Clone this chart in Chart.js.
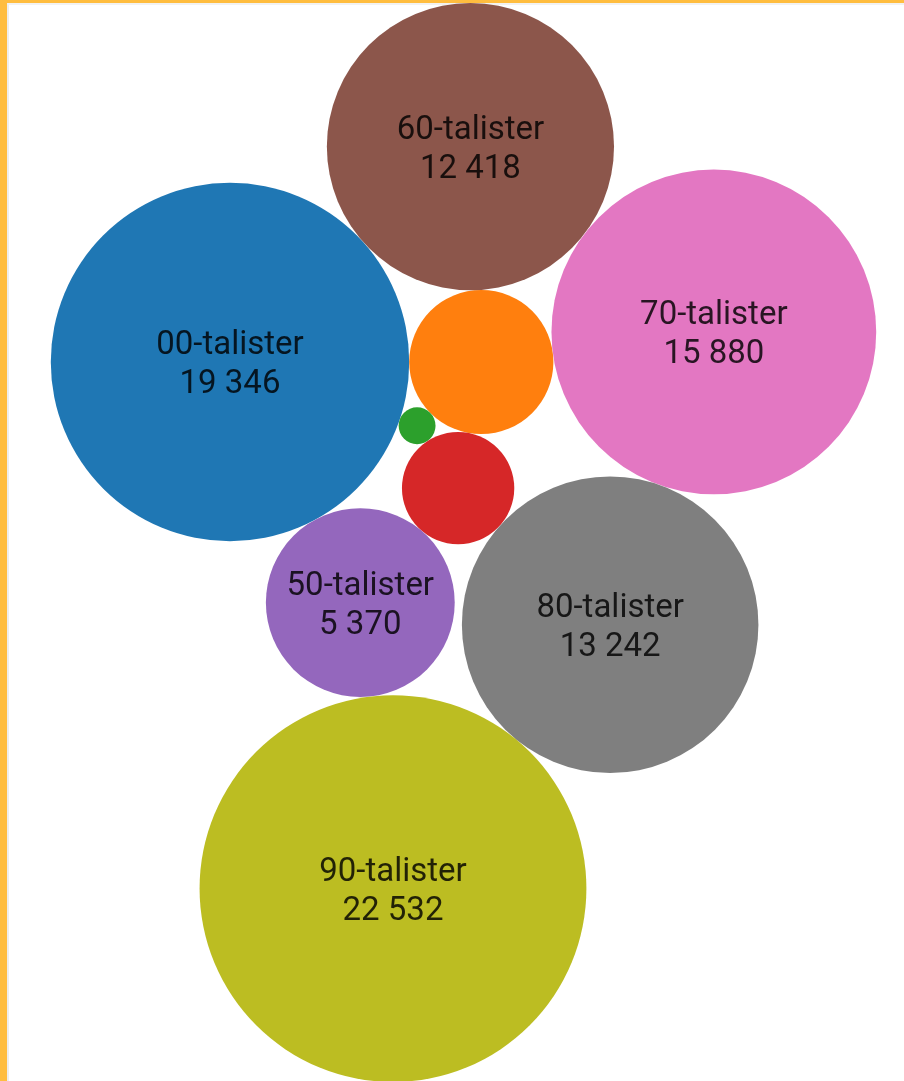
<!DOCTYPE html>
<html lang="sv">
<head>
<meta charset="utf-8">
<title>Talister</title>
<script src="https://cdn.jsdelivr.net/npm/chart.js@4.4.1/dist/chart.umd.min.js"></script>
<style>
  html, body { margin: 0; padding: 0; background: #fff; }
  body { width: 904px; height: 1081px; overflow: hidden; position: relative; }
  .frame { position: absolute; left: 0; top: 0; right: 0; bottom: 0;
           border-left: 7px solid #ffbd3f; border-top: 3px solid #ffbd3f; }
  .inner { position: absolute; left: 7px; top: 3px; right: 0; bottom: 0;
           border-left: 2px solid #eeeeee; border-top: 2px solid #f2f2f2; }
  #wrap { position: absolute; left: 31px; top: 3px; width: 865px; height: 1079px; }
</style>
</head>
<body>
<div class="frame"></div>
<div class="inner"></div>
<div id="wrap"><canvas id="bubbles"></canvas></div>
<script>
const categories = ['00-talister', '10-talister', '30-talister', '40-talister', '50-talister',
                    '60-talister', '70-talister', '80-talister', '90-talister'];
const counts = [19346, 3130, 205, 1900, 5370, 12418, 15880, 13242, 22532];
const colors = ['#1f77b4', '#ff7f0e', '#2ca02c', '#d62728', '#9467bd',
                '#8c564b', '#e377c2', '#7f7f7f', '#bcbd22'];

// packing order: [bubble, touches, touches]
// the new bubble sits on the left side of the line from the first to the second neighbour
const packing = [
  ['00-talister'],
  ['10-talister', '00-talister'],
  ['60-talister', '00-talister', '10-talister'],
  ['30-talister', '10-talister', '00-talister'],
  ['40-talister', '10-talister', '30-talister'],
  ['70-talister', '60-talister', '10-talister'],
  ['50-talister', '40-talister', '00-talister'],
  ['80-talister', '70-talister', '40-talister'],
  ['90-talister', '80-talister', '50-talister']
];

// area ~ value
const radius = counts.map(v => Math.sqrt(v));
const rOf = name => radius[categories.indexOf(name)];

const pos = {};
packing.forEach(([name, a, b]) => {
  const r = rOf(name);
  if (!a) { pos[name] = { x: 0, y: 0 }; return; }
  const pa = pos[a], ra = rOf(a);
  if (!b) { pos[name] = { x: pa.x + ra + r, y: pa.y }; return; }
  const pb = pos[b], rb = rOf(b);
  const dx = pb.x - pa.x, dy = pb.y - pa.y, d = Math.hypot(dx, dy);
  const da = ra + r, db = rb + r;
  const along = (d * d + da * da - db * db) / (2 * d);
  const h = Math.sqrt(Math.max(0, da * da - along * along));
  const ux = dx / d, uy = dy / d;
  pos[name] = { x: pa.x + along * ux - h * uy, y: pa.y + along * uy + h * ux };
});

// bounds of the packed bubbles
let xmin = Infinity, xmax = -Infinity, ymin = Infinity, ymax = -Infinity;
categories.forEach((c, i) => {
  xmin = Math.min(xmin, pos[c].x - radius[i]);
  xmax = Math.max(xmax, pos[c].x + radius[i]);
  ymin = Math.min(ymin, pos[c].y - radius[i]);
  ymax = Math.max(ymax, pos[c].y + radius[i]);
});

// same scale on both axes
const wrap = document.getElementById('wrap');
const unitsPerPx = (ymax - ymin) / wrap.clientHeight;
const xHalf = wrap.clientWidth * unitsPerPx / 2;
const xMid = (xmin + xmax) / 2;

function fmt(v) {
  return String(v).replace(/\B(?=(\d{3})+(?!\d))/g, ' ');
}

const bubbleLabels = {
  id: 'bubbleLabels',
  afterDatasetsDraw(chart) {
    const ctx = chart.ctx;
    const meta = chart.getDatasetMeta(0);
    ctx.save();
    ctx.font = '33px Roboto, "Noto Sans", sans-serif';
    ctx.fillStyle = 'rgba(0, 0, 0, 0.82)';
    ctx.textAlign = 'center';
    ctx.textBaseline = 'alphabetic';
    meta.data.forEach((el, i) => {
      const r = el.options.radius;
      if (!(ctx.measureText(categories[i]).width < 2 * r * 0.95)) return;
      ctx.fillText(categories[i], el.x, el.y - 8);
      ctx.fillText(fmt(counts[i]), el.x, el.y + 31);
    });
    ctx.restore();
  }
};

new Chart(document.getElementById('bubbles'), {
  type: 'bubble',
  data: {
    labels: categories,
    datasets: [{
      label: 'Antal',
      // r in pixels, same scale as the axes
      data: categories.map((c, i) => ({ x: pos[c].x, y: pos[c].y, r: radius[i] / unitsPerPx })),
      backgroundColor: colors,
      hoverBackgroundColor: colors,
      borderWidth: 0,
      hoverBorderWidth: 0,
      hoverRadius: 0,
      clip: false
    }]
  },
  options: {
    responsive: true,
    maintainAspectRatio: false,
    animation: false,
    layout: { padding: 0, autoPadding: false },
    plugins: {
      legend: { display: false },
      tooltip: { enabled: false }
    },
    scales: {
      x: { type: 'linear', display: false, bounds: 'data', min: xMid - xHalf, max: xMid + xHalf },
      y: { type: 'linear', display: false, bounds: 'data', min: ymin, max: ymax }
    }
  },
  plugins: [bubbleLabels]
});
</script>
</body>
</html>
